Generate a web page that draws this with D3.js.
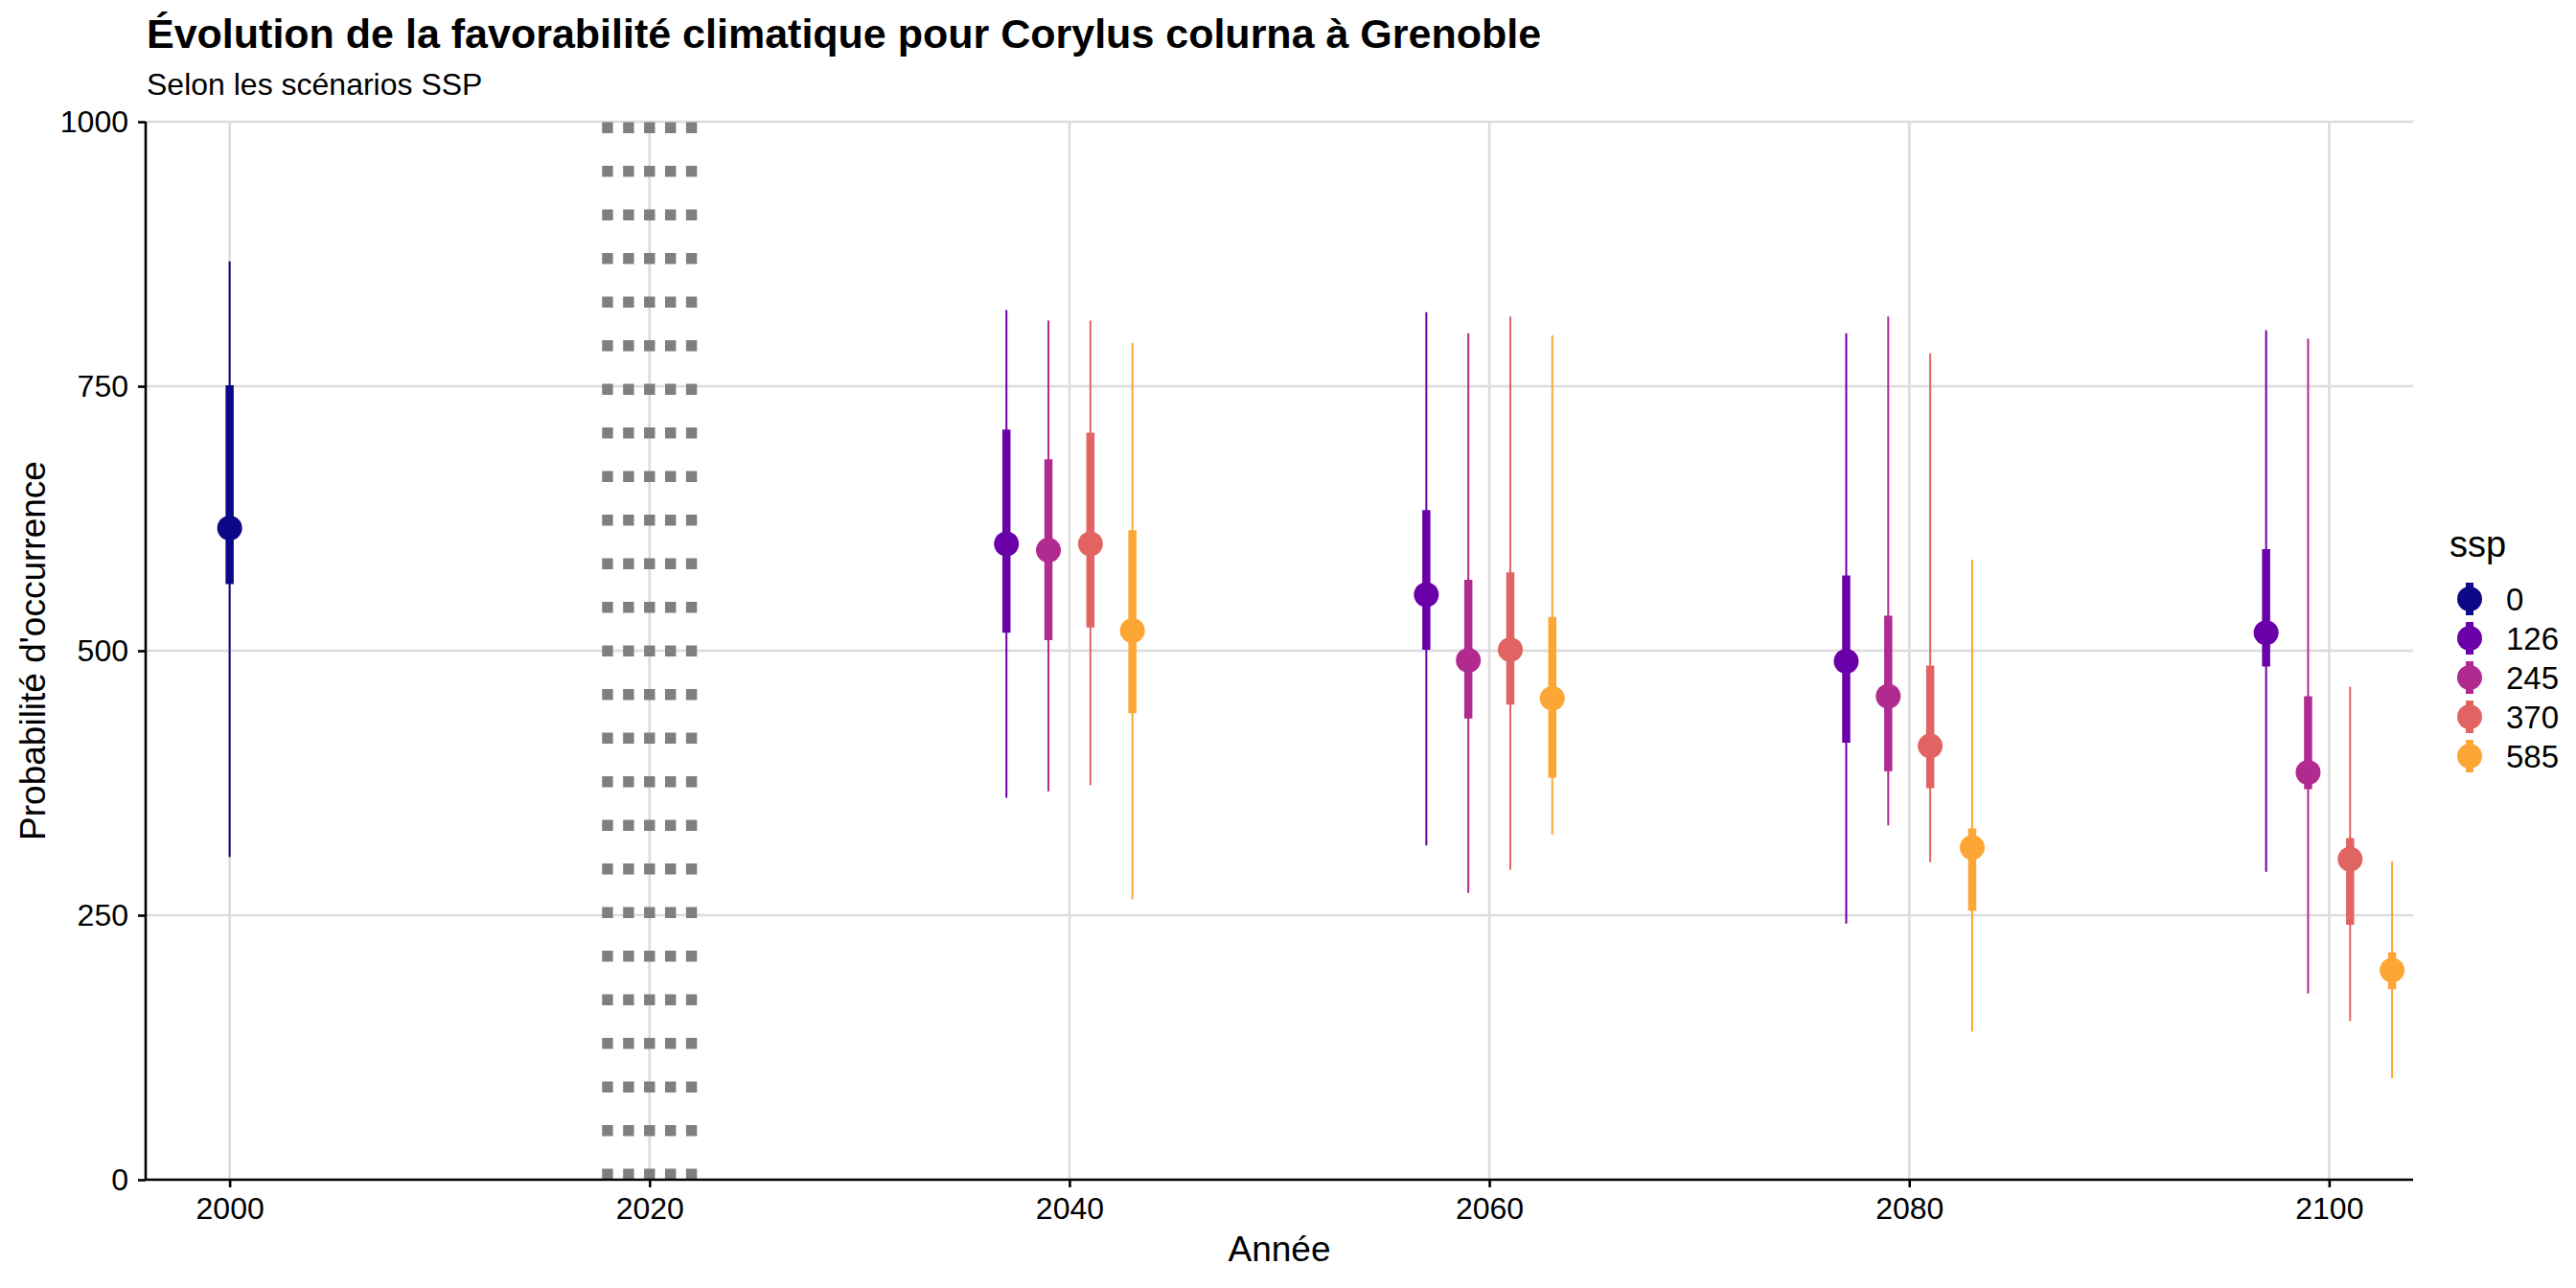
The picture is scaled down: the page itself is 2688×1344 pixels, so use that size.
<!DOCTYPE html>
<html>
<head>
<meta charset="utf-8">
<script src="https://cdn.jsdelivr.net/npm/d3@7"></script>
<style>
  body { margin: 0; background: #fff; }
  text { font-family: "Liberation Sans", Arial, sans-serif; fill: #000; }
</style>
</head>
<body>
<svg id="chart"></svg>
<script>
// Scenario categories and colours (plasma, end = 0.8)
const ssps = ["0", "126", "245", "370", "585"];
const sspColors = ["#0D0887", "#6A00A8", "#B12A90", "#E16462", "#FCA636"];

// One row per (year, ssp): median, inner interval, outer interval
const pointYear = [2000, 2040, 2040, 2040, 2040, 2060, 2060, 2060, 2060, 2080, 2080, 2080, 2080, 2100, 2100, 2100, 2100];
const pointSsp  = ["0", "126", "245", "370", "585", "126", "245", "370", "585", "126", "245", "370", "585", "126", "245", "370", "585"];
const median    = [616, 601, 595, 601, 519, 553, 491, 501, 455, 490, 457, 410, 314, 517, 385, 303, 198];
const innerLo   = [563, 517, 510, 522, 441, 501, 436, 449, 380, 413, 386, 370, 254, 485, 369, 241, 180];
const innerHi   = [751, 709, 681, 706, 614, 633, 567, 574, 532, 571, 533, 486, 332, 596, 457, 323, 215];
const outerLo   = [305, 361, 367, 373, 265, 316, 271, 293, 326, 242, 335, 300, 140, 291, 176, 150,  96];
const outerHi   = [868, 822, 812, 812, 791, 820, 800, 816, 798, 800, 816, 781, 586, 803, 795, 466, 301];

// Dotted reference lines around the present
const refYears = [2018, 2019, 2020, 2021, 2022];

const xTicks = [2000, 2020, 2040, 2060, 2080, 2100];
const yTicks = [0, 250, 500, 750, 1000];

const width = 2688, height = 1344;
const margin = { top: 127, right: 170, bottom: 113, left: 152 };

const svg = d3.select("#chart")
  .attr("width", width)
  .attr("height", height);

const data = pointYear.map((y, i) => ({
  year: y, ssp: pointSsp[i], median: median[i],
  innerLo: innerLo[i], innerHi: innerHi[i],
  outerLo: outerLo[i], outerHi: outerHi[i]
}));

const x = d3.scaleLinear()
  .domain([1996, 2104])
  .range([margin.left, width - margin.right]);

const y = d3.scaleLinear()
  .domain([0, 1000])
  .range([height - margin.bottom, margin.top]);

const color = d3.scaleOrdinal().domain(ssps).range(sspColors);

// dodge the future scenarios around each year
const dodge = d3.scalePoint().domain(ssps.slice(1)).range([-3, 3]);
const xPos = d => x(d.year + (d.ssp === "0" ? 0 : dodge(d.ssp)));

// Grid
const grid = svg.append("g").attr("stroke", "#dcdcdc").attr("stroke-width", 2.6);
grid.selectAll(".gx").data(xTicks).join("line")
  .attr("x1", d => x(d)).attr("x2", d => x(d))
  .attr("y1", y(0)).attr("y2", y(1000));
grid.selectAll(".gy").data(yTicks.filter(d => d > 0)).join("line")
  .attr("x1", x(1996)).attr("x2", x(2104))
  .attr("y1", d => y(d)).attr("y2", d => y(d));

// Dotted vertical lines
svg.append("g").selectAll("line").data(refYears).join("line")
  .attr("x1", d => x(d)).attr("x2", d => x(d))
  .attr("y1", y(0)).attr("y2", y(1000))
  .attr("stroke", "#7f7f7f")
  .attr("stroke-width", 11.4)
  .attr("stroke-dasharray", "11.4 34.1");

// Point intervals
const marks = svg.append("g");
data.forEach(d => {
  const cx = xPos(d), c = color(d.ssp);
  marks.append("line")
    .attr("x1", cx).attr("x2", cx)
    .attr("y1", y(d.outerLo)).attr("y2", y(d.outerHi))
    .attr("stroke", c).attr("stroke-width", 2);
  marks.append("line")
    .attr("x1", cx).attr("x2", cx)
    .attr("y1", y(d.innerLo)).attr("y2", y(d.innerHi))
    .attr("stroke", c).attr("stroke-width", 8.5);
  marks.append("circle")
    .attr("cx", cx).attr("cy", y(d.median))
    .attr("r", 13).attr("fill", c);
});

// Axes
const xAxis = svg.append("g")
  .attr("transform", `translate(0, ${y(0)})`)
  .call(d3.axisBottom(x).tickValues(xTicks).tickFormat(d3.format("d")).tickSize(8).tickPadding(10));
const yAxis = svg.append("g")
  .attr("transform", `translate(${margin.left}, 0)`)
  .call(d3.axisLeft(y).tickValues(yTicks).tickFormat(d3.format("d")).tickSize(8).tickPadding(10));

[xAxis, yAxis].forEach(a => {
  a.select(".domain").attr("stroke", "#000").attr("stroke-width", 2.6);
  a.selectAll(".tick line").attr("stroke", "#000").attr("stroke-width", 2.6);
  a.selectAll(".tick text").style("font-size", "32px").attr("fill", "#000");
});
xAxis.select(".domain").attr("d", `M${x(1996)},0H${x(2104)}`);
yAxis.select(".domain").attr("d", `M0,${y(0)}V${y(1000)}`);

// Axis titles
svg.append("text")
  .attr("x", (margin.left + width - margin.right) / 2)
  .attr("y", 1316)
  .attr("text-anchor", "middle")
  .style("font-size", "37px")
  .text("Année");

svg.append("text")
  .attr("transform", `translate(47, ${(y(0) + y(1000)) / 2}) rotate(-90)`)
  .attr("text-anchor", "middle")
  .style("font-size", "37px")
  .text("Probabilité d'occurrence");

// Title and subtitle
svg.append("text")
  .attr("x", 153).attr("y", 50)
  .style("font-size", "43px")
  .style("font-weight", "bold")
  .text("Évolution de la favorabilité climatique pour Corylus colurna à Grenoble");

svg.append("text")
  .attr("x", 153).attr("y", 99)
  .style("font-size", "32px")
  .text("Selon les scénarios SSP");

// Legend
const legend = svg.append("g").attr("transform", "translate(2556, 0)");
legend.append("text")
  .attr("x", 0).attr("y", 581)
  .style("font-size", "38px")
  .text("ssp");

const keys = legend.selectAll(".key").data(ssps).join("g")
  .attr("transform", (d, i) => `translate(21, ${625 + i * 41})`);
keys.append("line")
  .attr("y1", -17).attr("y2", 17)
  .attr("stroke", d => color(d)).attr("stroke-width", 8);
keys.append("circle")
  .attr("r", 13).attr("fill", d => color(d));
keys.append("text")
  .attr("x", 38).attr("y", 12)
  .style("font-size", "33px")
  .text(d => d);
</script>
</body>
</html>
